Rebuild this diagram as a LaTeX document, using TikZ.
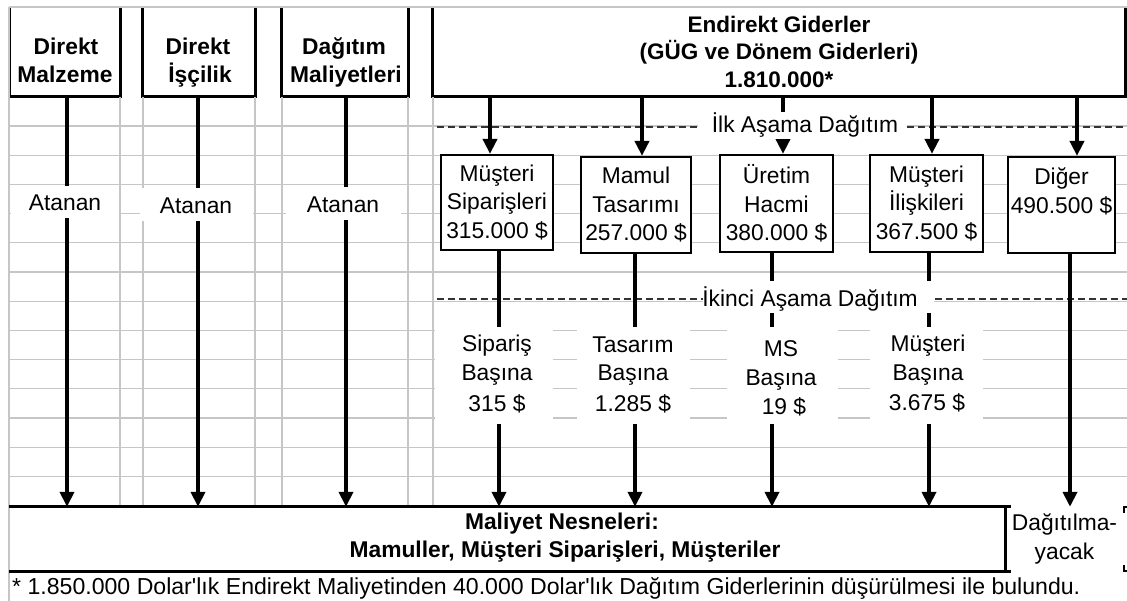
\documentclass[tikz,border=0pt]{standalone}
\usepackage{fontspec}
\setmainfont{Liberation Sans}
\newfontfamily\plainquote{Liberation Sans}[Ligatures=TeXOff]
\usetikzlibrary{arrows.meta,calc}
\tikzset{
  gridline/.style={draw=gray!45, line width=1.2pt},
  hdrline/.style={draw=black, line width=3.3pt},
  boxline/.style={draw=black, line width=3pt},
  hdrbox/.style={fill=white, draw=none, inner sep=0pt, minimum height=89.5pt},
  pool/.style={draw=black, line width=2.2pt, fill=white, inner sep=0pt, align=center,
               font=\fontsize{22.8}{28.5}\selectfont},
  arr/.style={draw=black, line width=4.2pt, -{Triangle[width=14pt,length=15pt]}},
  dashline/.style={draw=black!80, line width=2pt, dash pattern=on 7pt off 4pt},
  reg/.style={font=\fontsize{22.8}{28.5}\selectfont, inner sep=0pt},
  bld/.style={font=\fontsize{22.8}{27.5}\selectfont\bfseries, inner sep=0pt},
  maskfill/.style={fill=white},
}
\begin{document}
\begin{tikzpicture}[x=1pt,y=-1pt]
\useasboundingbox (0,0) rectangle (1127,601);
\fill[white] (0,0) rectangle (1127,601);

% header boxes
\node[hdrbox, minimum width=110pt] (dm) at (65,51.75) {};
\node[hdrbox, minimum width=112pt] (di) at (199,51.75) {};
\node[hdrbox, minimum width=126pt] (dg) at (345,51.75) {};
\node[hdrbox, minimum width=692pt, align=center, font=\fontsize{22.5}{27.5}\selectfont\bfseries] (en) at (779,51.75)
  {Endirekt Giderler\\(GÜG ve Dönem Giderleri)\\1.810.000*};
\foreach \n in {dm,di,dg,en}
  \draw[hdrline] (\n.north west) -- (\n.south west) -- (\n.south east) -- (\n.north east);

% grid
\foreach \yy in {126,155.2,184.4,213.6,242.8,272,301.2,330.4,359.6,388.8,418,447.2,476.4}
  \draw[gridline] (9,\yy) -- (1127,\yy);
\foreach \xx in {120,143,255,282,408,433}
  \draw[gridline] (\xx,97) -- (\xx,507);
\draw[gridline] (9,7) -- (9,601);
\draw[gridline] (9,7) -- (1127,7);

% header texts
\node[bld, anchor=base] (dm1) at (66,55) {Direkt};
\node[bld, anchor=base] (dm2) at (65,83) {Malzeme};
\node[bld, anchor=base] (di1) at (198,55) {Direkt};
\node[bld, anchor=base] (di2) at (200,83) {İşçilik};
\node[bld, anchor=base] (dg1) at (344,55) {Dağıtım};
\node[bld, anchor=base] (dg2) at (346,83) {Maliyetleri};

% first stage pools
\node[pool, minimum width=112pt, minimum height=95pt] (b1) at (497,202.5) {Müşteri\\Siparişleri\\315.000 \$};
\node[pool, minimum width=110pt, minimum height=96pt] (b2) at (636,205) {Mamul\\Tasarımı\\257.000 \$};
\node[pool, minimum width=113pt, minimum height=97pt] (b3) at (776.5,203.5) {Üretim\\Hacmi\\380.000 \$};
\node[pool, minimum width=113pt, minimum height=97pt] (b4) at (926.5,203.5) {Müşteri\\İlişkileri\\367.500 \$};
\node[pool, minimum width=107pt, minimum height=96pt] (b5) at (1061.5,205) {Diğer\\490.500 \$\\\mbox{}};

% cost objects
\node[inner sep=0pt, minimum width=996pt, minimum height=64pt] (mal) at (507,539) {};
\draw[boxline] (mal.north west) -- (mal.north east) -- (mal.south east) -- (mal.south west);
\node[reg, align=center, minimum width=119pt, minimum height=64pt] (dag) at (1064.5,539) {Dağıtılma-\\yacak};
\draw[boxline] (mal.north east) -- ++(6,0);
\draw[boxline] (mal.south east) -- ++(6,0);
\draw[line width=2.5pt] ($(dag.north east)+(0,6)$) -- (dag.north east) -- ++(3,0);
\draw[line width=2.5pt] ($(dag.south east)+(0,-6)$) -- (dag.south east) -- ++(3,0);
\node[bld, anchor=base] (mt1) at (562,529) {Maliyet Nesneleri:};
\node[bld, anchor=base] (mt2) at (565,557) {Mamuller, Müşteri Siparişleri, Müşteriler};

% dashed stage lines
\draw[dashline] (437,127) -- (698,127);
\draw[dashline] (907,127) -- (1127,127);
\draw[dashline] (437,299) -- (703,299);
\draw[dashline] (935,299) -- (1127,299);

% direct arrows
\draw[arr] ([xshift=2pt]dm.south) -- ([xshift=2pt]dm.south |- mal.north);
\draw[arr] ([xshift=-1pt]di.south) -- ([xshift=-1pt]di.south |- mal.north);
\draw[arr] ([xshift=1pt]dg.south) -- ([xshift=1pt]dg.south |- mal.north);

% first stage arrows
\draw[arr] ([xshift=-7pt]b1.north |- en.south) -- ([xshift=-7pt]b1.north);
\draw[arr] ([xshift=6pt]b2.north |- en.south) -- ([xshift=6pt]b2.north);
\draw[arr] ([xshift=6.5pt]b3.north |- en.south) -- ([xshift=6.5pt]b3.north);
\draw[arr] ([xshift=5.5pt]b4.north |- en.south) -- ([xshift=5.5pt]b4.north);
\draw[arr] ([xshift=15.5pt]b5.north |- en.south) -- ([xshift=15.5pt]b5.north);

% second stage arrows
\draw[arr] ([xshift=2pt]b1.south) -- ([xshift=2pt]b1.south |- mal.north);
\draw[arr] ([xshift=-1pt]b2.south) -- ([xshift=-1pt]b2.south |- mal.north);
\draw[arr] ([xshift=-4.5pt]b3.south) -- ([xshift=-4.5pt]b3.south |- mal.north);
\draw[arr] ([xshift=2.5pt]b4.south) -- ([xshift=2.5pt]b4.south |- mal.north);
\draw[arr] ([xshift=8.5pt]b5.south) -- ([xshift=8.5pt]b5.south |- dag.north);

% text cell masks
\fill[maskfill] (11,186) rectangle (119,218);
\fill[maskfill] (140,188) rectangle (253,221);
\fill[maskfill] (286,187) rectangle (401,220);
\fill[maskfill] (698,112) rectangle (907,139);
\fill[maskfill] (703,281) rectangle (934,313);
\fill[maskfill] (435,327.5) rectangle (553,424);
\fill[maskfill] (577,327.5) rectangle (690,424);
\fill[maskfill] (727,327.5) rectangle (838,424);
\fill[maskfill] (870,327.5) rectangle (983,424);

% labels
\node[reg, anchor=base] (a1) at (65,211) {Atanan};
\node[reg, anchor=base] (a2) at (196,214) {Atanan};
\node[reg, anchor=base] (a3) at (343,213) {Atanan};
\node[reg, anchor=base] (ilk) at (805,133) {İlk Aşama Dağıtım};
\node[reg, anchor=base] (iki) at (810,307) {İkinci Aşama Dağıtım};

\node[reg, anchor=base] (s1a) at (497,352) {Sipariş};
\node[reg, anchor=base] (s1b) at (497,381) {Başına};
\node[reg, anchor=base] (s1c) at (497,411) {315 \$};
\node[reg, anchor=base] (s2a) at (633,353) {Tasarım};
\node[reg, anchor=base] (s2b) at (633,381) {Başına};
\node[reg, anchor=base] (s2c) at (633,411) {1.285 \$};
\node[reg, anchor=base] (s3a) at (781,357) {MS};
\node[reg, anchor=base] (s3b) at (781,385) {Başına};
\node[reg, anchor=base] (s3c) at (784,414) {19 \$};
\node[reg, anchor=base] (s4a) at (928,352) {Müşteri};
\node[reg, anchor=base] (s4b) at (928,381) {Başına};
\node[reg, anchor=base] (s4c) at (927,410) {3.675 \$};

% footnote
\node[font=\plainquote\fontsize{23.1}{28}\selectfont, inner sep=0pt, anchor=base west] (fn) at (12,594)
  {* 1.850.000 Dolar'lık Endirekt Maliyetinden 40.000 Dolar'lık Dağıtım Giderlerinin düşürülmesi ile bulundu.};
\end{tikzpicture}
\end{document}
